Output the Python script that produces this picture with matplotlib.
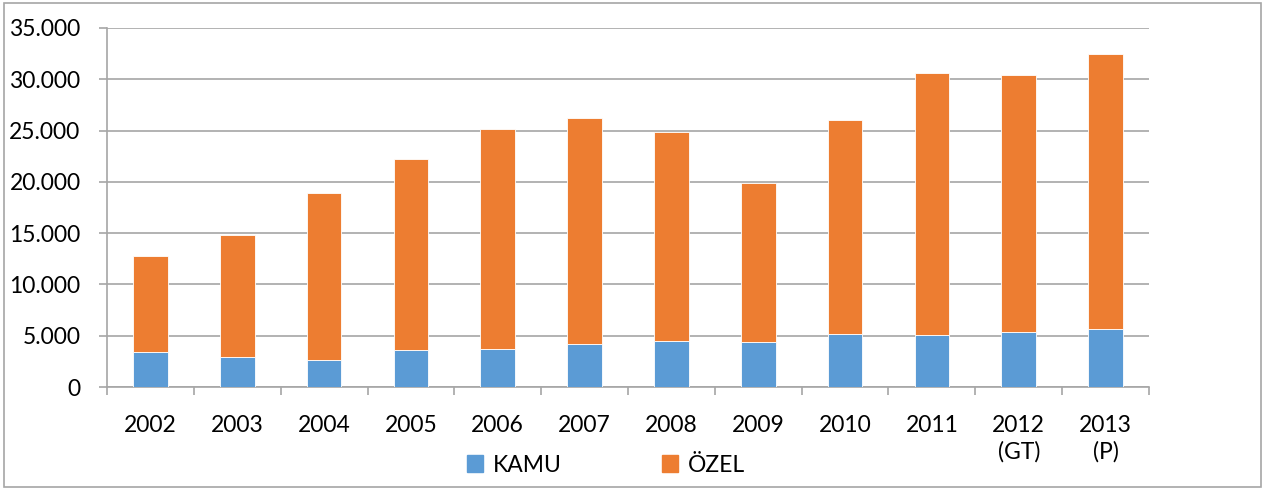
import matplotlib.pyplot as plt
from matplotlib.patches import Rectangle, Patch
from matplotlib.ticker import FuncFormatter, FixedLocator

# Data
YEARS = ["2002", "2003", "2004", "2005", "2006", "2007", "2008", "2009",
         "2010", "2011", "2012\n(GT)", "2013\n(P)"]
KAMU = [3415, 2965, 2675, 3650, 3745, 4235, 4460, 4430, 5210, 5045, 5365, 5630]
OZEL = [9405, 11835, 16195, 18565, 21425, 21980, 20390, 15415, 20810, 25530, 25045, 26830]

BLUE = "#5B9BD5"
ORANGE = "#ED7D31"
GRID = "#A6A6A6"
W, H = 1266, 490
FS = 16.5

plt.rcParams['font.family'] = ['Lato', 'DejaVu Sans']

fig = plt.figure(figsize=(W / 100, H / 100), dpi=100)
ax = fig.add_axes([107 / W, 1 - 387 / H, (1149 - 107) / W, (387 - 28) / H])

x = range(len(YEARS))
ax.bar(x, KAMU, width=0.4, color=BLUE, edgecolor="white", linewidth=0.6, zorder=3)
ax.bar(x, OZEL, width=0.4, bottom=KAMU, color=ORANGE, edgecolor="white",
       linewidth=0.6, zorder=3)

ax.set_xlim(-0.5, len(YEARS) - 0.5)
ax.set_ylim(0, 35000)
ax.set_yticks(range(0, 35001, 5000))
ax.yaxis.set_major_formatter(FuncFormatter(lambda v, p: f"{int(v):,}".replace(",", ".")))
ax.grid(axis="y", color=GRID, linewidth=1.2, zorder=0)

ax.set_xticks(list(x))
ax.set_xticklabels(YEARS, fontsize=FS, linespacing=1.3)
ax.xaxis.set_minor_locator(FixedLocator([i - 0.5 for i in range(len(YEARS) + 1)]))
ax.tick_params(axis="x", which="major", length=0, pad=20)
ax.tick_params(axis="x", which="minor", length=6, color=GRID, width=1.2)
ax.tick_params(axis="y", labelsize=FS, length=6, color=GRID, width=1.2, pad=13)

for s in ["top", "right"]:
    ax.spines[s].set_visible(False)
for s in ["left", "bottom"]:
    ax.spines[s].set_color(GRID)
    ax.spines[s].set_linewidth(1.2)

handles = [Patch(color=BLUE, label="KAMU"), Patch(color=ORANGE, label="ÖZEL")]
fig.legend(handles=handles, loc="center", bbox_to_anchor=(606 / W, 1 - 465 / H),
           ncol=2, frameon=False, fontsize=FS, handlelength=0.7, handleheight=0.7,
           handletextpad=0.4, columnspacing=4.4, borderpad=0)

# thin border around the whole chart
fig.patches.append(Rectangle((4 / W, 3 / H), (1261 - 4) / W, (487 - 3) / H,
                             transform=fig.transFigure, fill=False,
                             edgecolor=GRID, linewidth=1.2))

fig.savefig("out.png", dpi=100)
